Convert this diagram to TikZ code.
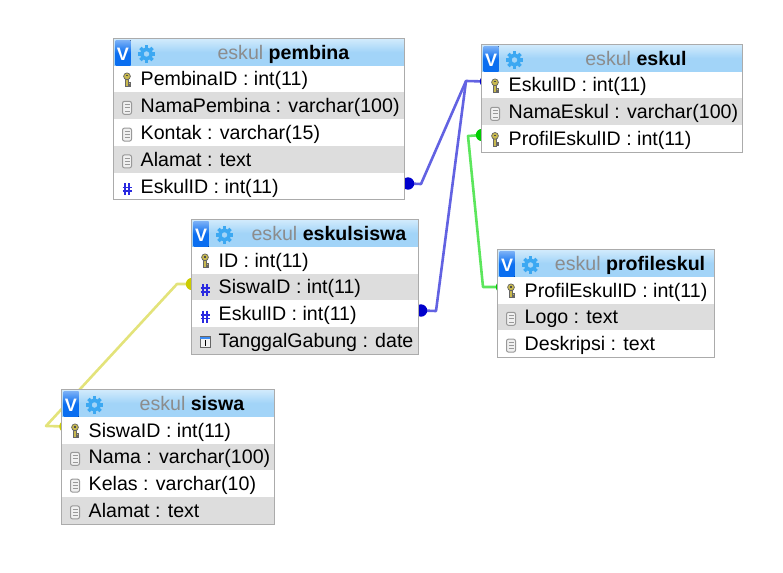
\documentclass[tikz,border=0pt]{standalone}
\usepackage{xcolor}
\usepackage{fontspec}
\setmainfont{Liberation Sans}
\usetikzlibrary{backgrounds}

\definecolor{rowgray}{HTML}{DDDDDD}
\definecolor{bordergray}{HTML}{ABABAB}
\definecolor{headtop}{HTML}{D2EBFC}
\definecolor{headbottom}{HTML}{A2D4F8}
\definecolor{badgeblue}{HTML}{0A6EF0}
\definecolor{gearblue}{HTML}{3CA8F2}
\definecolor{keyyellow}{HTML}{C8B94E}
\definecolor{hashblue}{HTML}{2A2AE0}
\definecolor{linkblue}{HTML}{6262E2}
\definecolor{linkgreen}{HTML}{5CE65C}
\definecolor{linkyellow}{HTML}{E3E37A}
\definecolor{dotblue}{HTML}{0000CC}
\definecolor{dotgreen}{HTML}{00CC00}
\definecolor{dotyellow}{HTML}{CCCC00}

\tikzset{
    headbar/.style={rectangle, inner sep=0pt, minimum height=27pt, top color=headtop, bottom color=headbottom, middle color=headbottom},
    rowbar/.style={rectangle, inner sep=0pt, minimum height=26.8pt},
    rowtext/.style={inner sep=0pt, anchor=base west, font=\fontsize{19.6}{22}\selectfont},
    titletext/.style={inner sep=0pt, anchor=base, font=\fontsize{19.6}{22}\selectfont},
    linkdot/.style={circle, inner sep=0pt, minimum size=12.5pt},
    bluelink/.style={draw=linkblue, line width=2.6pt, line join=round},
    greenlink/.style={draw=linkgreen, line width=2.6pt, line join=round},
    yellowlink/.style={draw=linkyellow, line width=2.6pt, line join=round},
    pics/keyicon/.style={code={
        \fill[keyyellow, draw=black!60, line width=0.7pt] (-1.6,-2) rectangle (1.6,7);
        \fill[keyyellow, draw=black!60, line width=0.7pt] (1.6,3) rectangle (3.4,4.4);
        \fill[keyyellow, draw=black!60, line width=0.7pt] (1.6,5.4) rectangle (3,6.6);
        \fill[keyyellow, draw=black!60, line width=0.7pt] (0,-3.2) circle (3.4);
        \fill[black!70] (-1.2,-4.2) rectangle (1.2,-3);
    }},
    pics/docicon/.style={code={
        \draw[black!40, fill=black!6, line width=1pt, rounded corners=2pt] (-4.5,-5) rectangle (4.5,8);
        \foreach \l in {-1.8,1.5,4.8} {\draw[black!40, line width=0.9pt] (-2.5,\l) -- (2.5,\l);}
    }},
    pics/hashicon/.style={code={
        \draw[hashblue, line width=1.8pt] (-1.9,-3.5) -- (-1.9,8.5) (1.9,-3.5) -- (1.9,8.5) (-4.5,0.7) -- (4.5,0.7) (-4.5,4.3) -- (4.5,4.3);
    }},
    pics/dateicon/.style={code={
        \draw[black!60, fill=rowgray!40!white, line width=0.9pt] (-5,-4) rectangle (5,7);
        \fill[badgeblue!80!white] (-5,-4) rectangle (5,-1.5);
        \draw[black, line width=1.1pt] (0.5,-0.5) -- (0.5,5);
    }},
    pics/gearicon/.style={code={
        \foreach \a in {0,45,...,315} {\draw[gearblue, line width=3.4pt] (\a:5) -- (\a:8.6);}
        \draw[gearblue, line width=3.6pt] (0,0) circle (4.8);
    }}
}

% name, left, top, width, title centre x, title, number of rows, rows
\newcommand{\dbtable}[8]{
    \node[headbar, minimum width=#4 pt, anchor=north west] (#1) at (#2,#3) {};
    \fill[top color=badgeblue!55!white, bottom color=badgeblue, middle color=badgeblue] ({#2+2},{#3+2}) rectangle ({#2+17},{#3+27});
    \node[inner sep=0pt, text=white, font=\fontsize{18}{20}\bfseries\selectfont] (#1-badge) at ({#2+9.5},{#3+16}) {V};
    \pic at ({#2+33},{#3+15.5}) {gearicon};
    \node[titletext] (#1-title) at (#5,{#3+21}) {\textcolor{black!45}{eskul} \textbf{#6}};
    \foreach \icon/\label [count=\i] in {#8} {
        \ifodd\i \def\rowcol{white}\else\def\rowcol{rowgray}\fi
        \node[rowbar, fill=\rowcol, minimum width=#4 pt, anchor=north west] (#1-\i) at (#2,{#3+27+(\i-1)*26.8}) {};
        \pic at ({#2+13.5},{#3+27+(\i-1)*26.8+14}) {\icon};
        \node[rowtext] (#1-\i-text) at ({#2+27},{#3+27+(\i-1)*26.8+20.5}) {\label};
    }
    \draw[bordergray, line width=1pt] (#1.north west) rectangle (#1-#7.south east);
}

\begin{document}
\begin{tikzpicture}[x=1pt, y=-1pt]
    \useasboundingbox (0,0) rectangle (783,572);

    % tables
    \dbtable{pembina}{113.5}{38.5}{291}{283.5}{pembina}{5}{keyicon/PembinaID : int(11), docicon/NamaPembina : varchar(100), docicon/Kontak : varchar(15), docicon/Alamat : text, hashicon/EskulID : int(11)}
    \dbtable{eskulsiswa}{191.5}{219.5}{227}{329}{eskulsiswa}{4}{keyicon/ID : int(11), hashicon/SiswaID : int(11), hashicon/EskulID : int(11), dateicon/TanggalGabung : date}
    \dbtable{eskul}{481.5}{44.5}{261}{636}{eskul}{3}{keyicon/EskulID : int(11), docicon/NamaEskul : varchar(100), keyicon/ProfilEskulID : int(11)}
    \dbtable{profileskul}{497.5}{249.5}{217}{630}{profileskul}{3}{keyicon/ProfilEskulID : int(11), docicon/Logo : text, docicon/Deskripsi : text}
    \dbtable{siswa}{61.5}{389.5}{213}{192}{siswa}{4}{keyicon/SiswaID : int(11), docicon/Nama : varchar(100), docicon/Kelas : varchar(10), docicon/Alamat : text}

    % connectors go behind the tables
    \begin{scope}[on background layer]
        \coordinate (bendpembina) at (421,184);
        \coordinate (bendeskulsiswa) at (436,311);
        \coordinate (hubeskul) at (466,81);
        \coordinate (bendprofil) at (468,136);
        \coordinate (bendprofilb) at (483,287);
        \coordinate (bendsiswa) at (46,426);
        \coordinate (bendsiswab) at (177,284);

        \node[linkdot] (dotpembina) at (408,183.5) {};
        \node[linkdot] (dotlinksiswa) at (421,310.5) {};
        \node[linkdot] (doteskul) at (486,81.5) {};
        \node[linkdot] (dotprofil) at (482,135) {};
        \node[linkdot] (dotprofilb) at (502,287) {};
        \node[linkdot] (dotkiri) at (192,284) {};
        \node[linkdot] (dotsiswa) at (65.5,426.5) {};

        \draw[bluelink] (dotpembina.center) -- (bendpembina) -- (hubeskul) -- (doteskul.center);
        \draw[bluelink] (dotlinksiswa.center) -- (bendeskulsiswa) -- (hubeskul);
        \draw[greenlink] (dotprofil.center) -- (bendprofil) -- (bendprofilb) -- (dotprofilb.center);
        \draw[yellowlink] (dotkiri.center) -- (bendsiswab) -- (bendsiswa) -- (dotsiswa.center);

        \fill[dotblue] (dotpembina) circle (6.2);
        \fill[dotblue] (dotlinksiswa) circle (6.2);
        \fill[dotblue] (doteskul) circle (6.2);
        \fill[dotgreen] (dotprofil) circle (6.2);
        \fill[dotgreen] (dotprofilb) circle (6.2);
        \fill[dotyellow] (dotkiri) circle (6.2);
        \fill[dotyellow] (dotsiswa) circle (6.2);
    \end{scope}
\end{tikzpicture}
\end{document}
